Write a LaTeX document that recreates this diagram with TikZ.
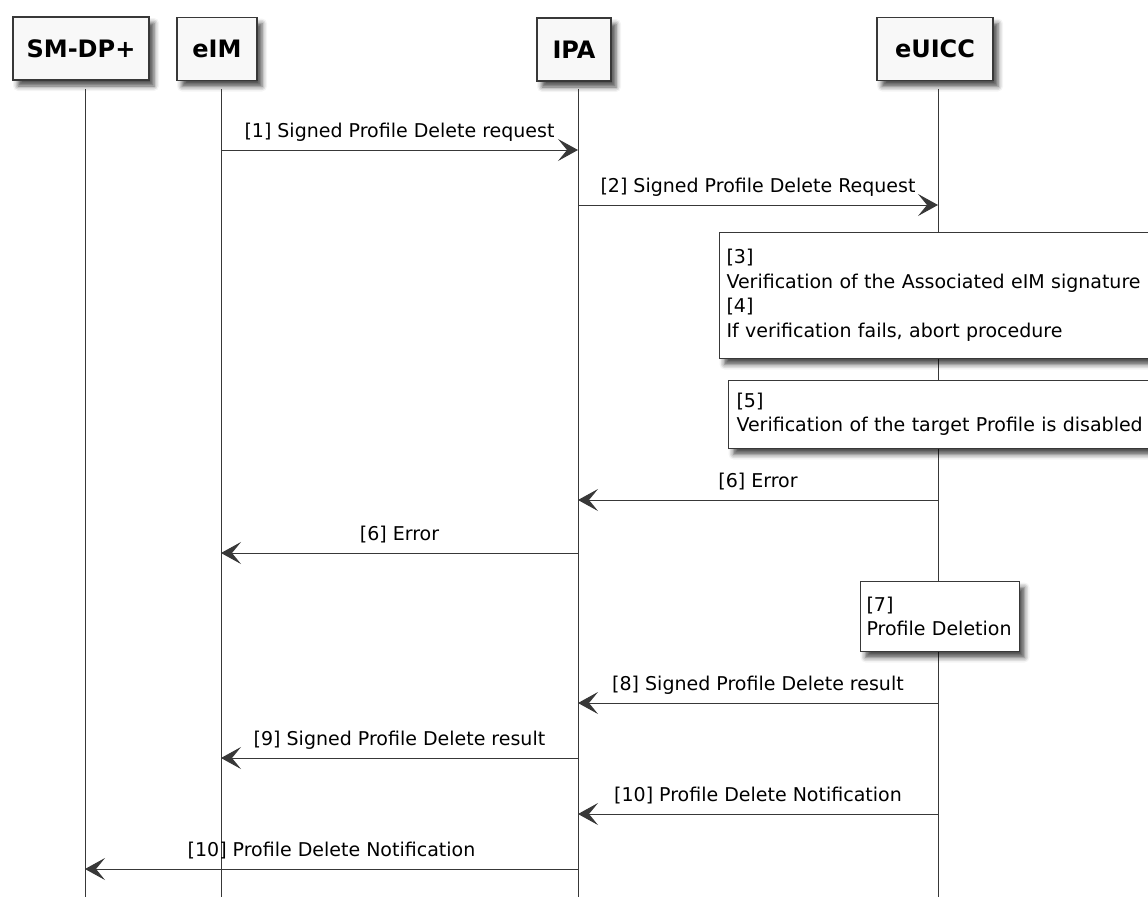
\documentclass[tikz,border=0pt]{standalone}
\usepackage{fontspec}
\setmainfont{DejaVu Sans}
\usetikzlibrary{arrows.meta,shadows.blur,positioning}
\definecolor{umlline}{HTML}{383838}
\definecolor{umlbox}{HTML}{F8F8F8}
\begin{document}
\begin{tikzpicture}[x=1pt, y=-1pt,
        actor/.style={draw=umlline, line width=1.5pt, fill=umlbox, minimum height=63pt, inner sep=0pt,
            font=\bfseries\fontsize{24}{28}\selectfont,
            blur shadow={shadow xshift=5pt, shadow yshift=-6pt, shadow blur radius=5pt, shadow opacity=70}},
        life/.style={draw=umlline, line width=1pt},
        msg/.style={draw=umlline, line width=1pt, -{Stealth[length=20pt, width=22pt, inset=9pt]}},
        lbl/.style={anchor=base, yshift=13pt, inner sep=0pt, font=\fontsize{19}{25}\selectfont},
        note/.style={draw=umlline, line width=1pt, fill=white, anchor=north west, inner ysep=0pt, align=left,
            font=\fontsize{19}{24.5}\selectfont,
            blur shadow={shadow xshift=5pt, shadow yshift=-6pt, shadow blur radius=5pt, shadow opacity=70}}]
        \clip (0, 0) rectangle (1148, 897);
        \coordinate (bottom) at (0, 897);

        % participants
        \node[actor, minimum width=136pt] (smdp) at (81, 48.5) {SM-DP+};
        \node[actor, minimum width=80pt] (eim) at (217, 49) {eIM};
        \node[actor, minimum width=74pt] (ipa) at (574, 49.5) {IPA};
        \node[actor, minimum width=116pt] (euicc) at (935, 49) {eUICC};

        % lifelines
        \coordinate (smdpL) at (85, 89);
        \coordinate (eimL) at (221, 89);
        \coordinate (ipaL) at (578, 89);
        \coordinate (euiccL) at (938, 89);
        \draw[life] (smdpL) -- (smdpL |- bottom);
        \draw[life] (eimL) -- (eimL |- bottom);
        \draw[life] (ipaL) -- (ipaL |- bottom);
        \draw[life] (euiccL) -- (euiccL |- bottom);

        \draw[msg] (eimL |- 0, 150) -- node[lbl] {[1] Signed Profile Delete request} (ipaL |- 0, 150);
        \draw[msg] (ipaL |- 0, 205) -- node[lbl] {[2] Signed Profile Delete Request} (euiccL |- 0, 205);

        \node[note, minimum height=126pt, inner xsep=7pt, text width=440pt] (n34) at (719, 232)
            {[3]\\Verification of the Associated eIM signature\\{[4]}\\If verification fails, abort procedure};
        \node[note, minimum height=68pt, inner xsep=8pt, text width=440pt] (n5) at (728, 380)
            {[5]\\Verification of the target Profile is disabled};

        \draw[msg] (euiccL |- 0, 500) -- node[lbl] {[6] Error} (ipaL |- 0, 500);
        \draw[msg] (ipaL |- 0, 553) -- node[lbl] {[6] Error} (eimL |- 0, 553);

        \node[note, minimum height=70pt, inner xsep=6pt, text width=147pt] (n7) at (860, 581)
            {[7]\\Profile Deletion};

        \draw[msg] (euiccL |- 0, 703) -- node[lbl] {[8] Signed Profile Delete result} (ipaL |- 0, 703);
        \draw[msg] (ipaL |- 0, 758) -- node[lbl] {[9] Signed Profile Delete result} (eimL |- 0, 758);
        \draw[msg] (euiccL |- 0, 814) -- node[lbl] {[10] Profile Delete Notification} (ipaL |- 0, 814);
        \draw[msg] (ipaL |- 0, 869) -- node[lbl] {[10] Profile Delete Notification} (smdpL |- 0, 869);
    \end{tikzpicture}
\end{document}
